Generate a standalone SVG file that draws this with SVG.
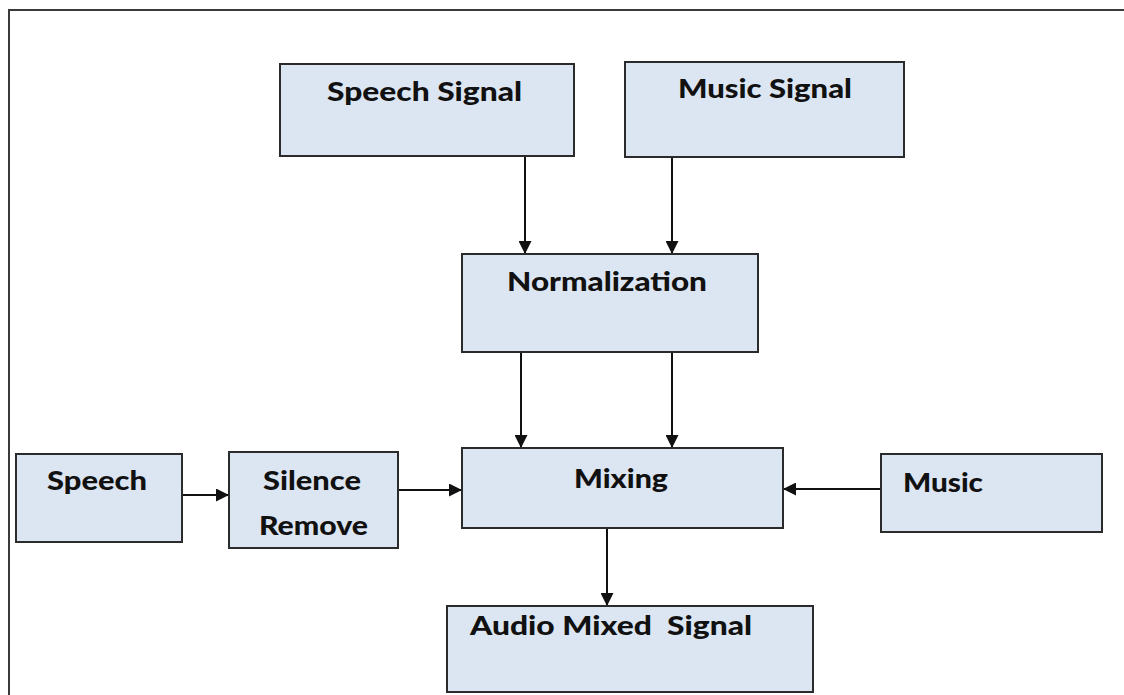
<svg xmlns="http://www.w3.org/2000/svg" width="1124" height="695" viewBox="0 0 1124 695">
<style>
.box{fill:#dce6f2;stroke:#2b2b2b;stroke-width:2}
.t{font-family:Lato,"Open Sans","Liberation Sans",sans-serif;font-weight:900;font-size:27px;fill:#111}
.c{stroke:#111;stroke-width:2;fill:none;marker-end:url(#ah)}
</style>
<defs>
<marker id="ah" markerWidth="13" markerHeight="13" refX="13" refY="6.5" orient="auto" markerUnits="userSpaceOnUse">
<path d="M0,0 L13,6.5 L0,13 z" fill="#111"/>
</marker>
</defs>
<rect width="1124" height="695" fill="#fff"/>
<g id="frame">
<path d="M9,695 V10 H1124" fill="none" stroke="#3a3a3a" stroke-width="2"/>
</g>
<g id="connectors">
<line class="c" x1="525" y1="156" x2="525" y2="254"/>
<line class="c" x1="672" y1="157" x2="672" y2="254"/>
<line class="c" x1="521" y1="352" x2="521" y2="448"/>
<line class="c" x1="672" y1="352" x2="672" y2="448"/>
<line class="c" x1="182" y1="495" x2="229" y2="495"/>
<line class="c" x1="398" y1="490" x2="462" y2="490"/>
<line class="c" x1="881" y1="489" x2="783" y2="489"/>
<line class="c" x1="607" y1="528" x2="607" y2="606"/>
</g>
<g id="speech-signal">
<rect class="box" x="280" y="64" width="294" height="92"/>
<text class="t" x="327" y="101" textLength="195" lengthAdjust="spacingAndGlyphs">Speech Signal</text>
</g>
<g id="music-signal">
<rect class="box" x="625" y="62" width="279" height="95"/>
<text class="t" x="678" y="98" textLength="174" lengthAdjust="spacingAndGlyphs">Music Signal</text>
</g>
<g id="normalization">
<rect class="box" x="462" y="254" width="296" height="98"/>
<text class="t" x="507" y="291" textLength="200" lengthAdjust="spacingAndGlyphs">Normalization</text>
</g>
<g id="speech">
<rect class="box" x="16" y="454" width="166" height="88"/>
<text class="t" x="47" y="490" textLength="100" lengthAdjust="spacingAndGlyphs">Speech</text>
</g>
<g id="silence-remove">
<rect class="box" x="229" y="452" width="169" height="96"/>
<text class="t" x="263" y="490" textLength="98" lengthAdjust="spacingAndGlyphs">Silence</text>
<text class="t" x="259" y="535" textLength="109" lengthAdjust="spacingAndGlyphs">Remove</text>
</g>
<g id="mixing">
<rect class="box" x="462" y="448" width="321" height="80"/>
<text class="t" x="574" y="488" textLength="94" lengthAdjust="spacingAndGlyphs">Mixing</text>
</g>
<g id="music">
<rect class="box" x="881" y="454" width="221" height="78"/>
<text class="t" x="903" y="492" textLength="80" lengthAdjust="spacingAndGlyphs">Music</text>
</g>
<g id="audio-mixed-signal">
<rect class="box" x="447" y="606" width="366" height="86"/>
<text class="t" x="470" y="635" textLength="282" lengthAdjust="spacingAndGlyphs" xml:space="preserve">Audio Mixed  Signal</text>
</g>
</svg>
